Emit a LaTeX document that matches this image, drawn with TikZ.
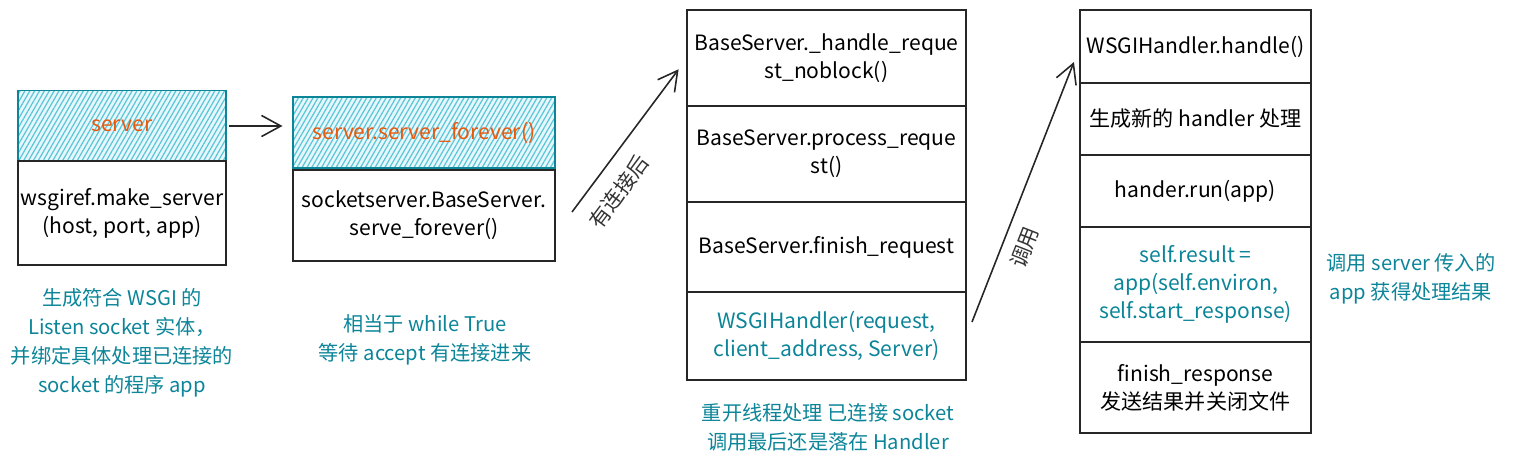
\documentclass[tikz,border=0pt]{standalone}
\usepackage{fontspec}
\setmainfont{Noto Sans CJK SC}
\usetikzlibrary{arrows.meta,patterns.meta}
\definecolor{tealtext}{HTML}{0C8599}
\definecolor{orangetext}{HTML}{E8590C}
\definecolor{hatchline}{HTML}{5BC6D6}

\begin{document}
\begin{tikzpicture}[x=0.02cm, y=-0.02cm,
  every node/.style={align=center, inner sep=0pt, outer sep=0pt, font=\fontsize{12}{16}\selectfont},
  box/.style={draw=black!85, line width=1pt, fill=white},
  hatchbox/.style={draw=tealtext, line width=1pt, preaction={fill=cyan!10},
    pattern={Lines[angle=60,distance=2.4pt,line width=0.7pt]}, pattern color=hatchline},
  note/.style={text=tealtext, font=\fontsize{11.5}{16.5}\selectfont},
  arr/.style={-{Straight Barb[length=11pt,width=12pt]}, line width=0.9pt, draw=black!85}]
\useasboundingbox (0,0) rectangle (1519,463);

\node[hatchbox, minimum width=4.16cm, minimum height=1.42cm, text=orangetext] (srv) at (122,126) {server};
\node[box, minimum width=4.16cm, minimum height=2.08cm] (mks) at (122,213) {wsgiref.make\_server\\(host, port, app)};
\node[hatchbox, minimum width=5.24cm, minimum height=1.42cm, text=orangetext] (sfv) at (424,132.5) {server.server\_forever()};
\node[box, minimum width=5.24cm, minimum height=1.82cm] (bsf) at (424,215.5) {socketserver.BaseServer.\\serve\_forever()};

\node[box, minimum width=5.58cm, minimum height=1.92cm] (hrn) at (826.5,58) {BaseServer.\_handle\_reque\\st\_noblock()};
\node[box, minimum width=5.58cm, minimum height=1.92cm] (prq) at (826.5,154) {BaseServer.process\_reque\\st()};
\node[box, minimum width=5.58cm, minimum height=1.8cm] (frq) at (826.5,247) {BaseServer.finish\_request};
\node[box, minimum width=5.58cm, minimum height=1.76cm, text=tealtext] (wsh) at (826.5,336) {WSGIHandler(request,\\client\_address, Server)};

\node[box, minimum width=4.62cm, minimum height=1.46cm] (hdl) at (1195.5,46.5) {WSGIHandler.handle()};
\node[box, minimum width=4.62cm, minimum height=1.44cm] (nwh) at (1195.5,119) {生成新的 handler 处理};
\node[box, minimum width=4.62cm, minimum height=1.44cm] (run) at (1195.5,191) {hander.run(app)};
\node[box, minimum width=4.62cm, minimum height=2.3cm, text=tealtext] (res) at (1195.5,284.5) {self.result =\\app(self.environ,\\self.start\_response)};
\node[box, minimum width=4.62cm, minimum height=1.82cm] (fin) at (1195.5,387.5) {finish\_response\\发送结果并关闭文件};

\node[note] (capa) at (122,343) {生成符合 WSGI 的\\Listen socket 实体，\\并绑定具体处理已连接的\\socket 的程序 app};
\node[note] (capb) at (425,340) {相当于 while True\\等待 accept 有连接进来};
\node[note] (capc) at (828,427) {重开线程处理 已连接 socket\\调用最后还是落在 Handler};
\node[note] (capd) at (1411,279) {调用 server 传入的\\app 获得处理结果};

\coordinate (c1) at (572,212);
\coordinate (c2) at (972,322);
\draw[arr, shorten <=2pt, shorten >=6pt] (srv.east) -- (srv.east -| sfv.west);
\draw[arr, shorten >=8pt] (c1) -- (hrn.west) node[pos=0.23, sloped, below=9pt, text=black!80] {有连接后};
\draw[arr, shorten >=9.5pt] (c2) -- (hdl.west) node[pos=0.3, sloped, below=7pt, text=black!80] {调用};
\end{tikzpicture}
\end{document}
